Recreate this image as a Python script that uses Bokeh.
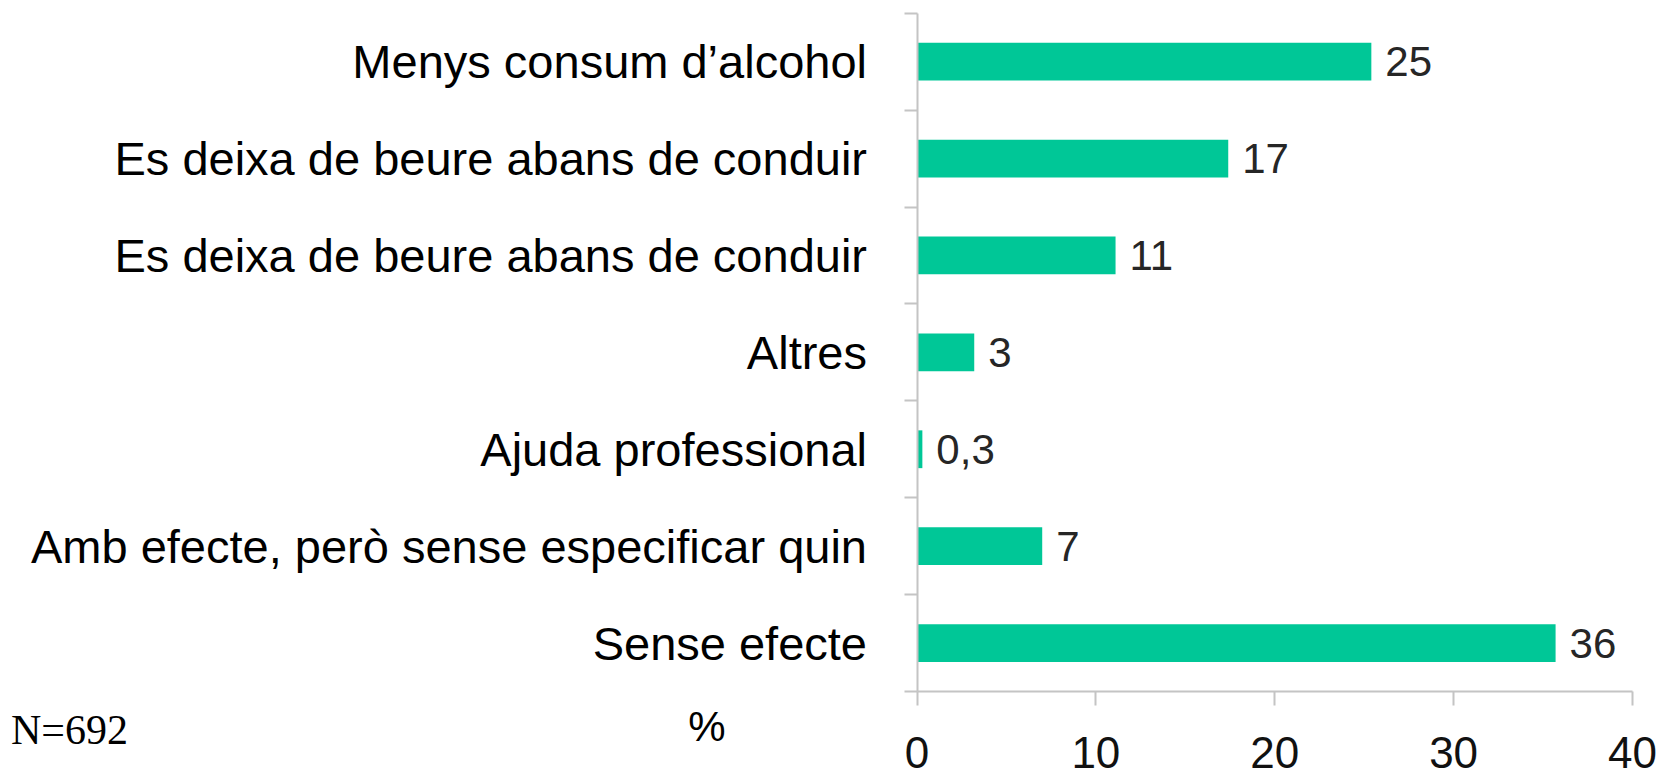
from bokeh.plotting import figure
from bokeh.models import ColumnDataSource, Range1d, FixedTicker, Label
from bokeh.embed import file_html
from bokeh.resources import INLINE
from bokeh.core.properties import value

categories = [
    "Menys consum d\u2019alcohol",
    "Es deixa de beure abans de conduir",
    "Es deixa de beure abans de conduir",
    "Altres",
    "Ajuda professional",
    "Amb efecte, però sense especificar quin",
    "Sense efecte",
]
values = [25.4, 17.4, 11.1, 3.2, 0.3, 7.0, 35.7]
value_labels = ["25", "17", "11", "3", "0,3", "7", "36"]
x_ticks = [0, 10, 20, 30, 40]
x_min, x_max = 0, 40

BAR = "#00C797"
AXIS = "#c4c4c4"

# layout (pixels): plotting area of the axes inside the canvas
W, H = 1664, 775
AX_LEFT, AX_RIGHT, AX_TOP, AX_BOTTOM = 916.5, 1632, 12.7, 691
n = len(categories)
px_per_x = (AX_RIGHT - AX_LEFT) / (x_max - x_min)
px_per_band = (AX_BOTTOM - AX_TOP) / n

x_range = Range1d(x_min - AX_LEFT / px_per_x, x_max + (W - AX_RIGHT) / px_per_x)
y_range = Range1d(n - 0.5 + (H - AX_BOTTOM) / px_per_band, -0.5 - AX_TOP / px_per_band)

pos = list(range(n))
src = ColumnDataSource(dict(y=pos, v=values, lab=value_labels))

p = figure(width=W, height=H, output_backend="svg", toolbar_location=None,
           x_range=x_range, y_range=y_range,
           min_border_left=0, min_border_right=0, min_border_top=0, min_border_bottom=0)
p.outline_line_color = None
p.grid.visible = False
p.background_fill_color = "white"
p.border_fill_color = "white"

p.hbar(y="y", right="v", left=0, height=0.39, source=src, fill_color=BAR, line_color=None)
p.text(x="v", y="y", text="lab", source=src, x_offset=14, text_baseline="middle",
       text_align="left", text_font=value("Liberation Sans"), text_font_size="42px",
       text_color="#262626")

# x axis, fixed at the bottom of the category bands
xa = p.xaxis[0]
xa.fixed_location = n - 0.5
xa.bounds = (x_min, x_max)
xa.ticker = FixedTicker(ticks=x_ticks)
xa.axis_line_color = AXIS
xa.axis_line_width = 2
xa.major_tick_line_color = AXIS
xa.major_tick_line_width = 2
xa.major_tick_out = 14
xa.major_tick_in = 0
xa.minor_tick_line_color = None
xa.major_label_text_font = "Liberation Sans"
xa.major_label_text_font_size = "44px"
xa.major_label_text_color = "#111111"
xa.major_label_standoff = 31

# y axis at x=0: labels at band centres, ticks at band boundaries
ya = p.yaxis[0]
ya.fixed_location = 0
ya.bounds = (-0.5, n - 0.5)
ya.ticker = FixedTicker(ticks=pos, minor_ticks=[i - 0.5 for i in range(n + 1)])
ya.major_label_overrides = {i: c for i, c in enumerate(categories)}
ya.axis_line_color = AXIS
ya.axis_line_width = 2
ya.major_tick_line_color = None
ya.major_tick_out = 0
ya.major_tick_in = 0
ya.minor_tick_line_color = AXIS
ya.minor_tick_line_width = 2
ya.minor_tick_out = 13
ya.minor_tick_in = 0
ya.major_label_text_font = "Liberation Sans"
ya.major_label_text_font_size = "47px"
ya.major_label_text_color = "#000000"
ya.major_label_standoff = 37

p.add_layout(Label(x=0, y=n - 0.5, x_offset=-210, y_offset=-35, text="%",
                   text_align="center", text_baseline="alphabetic",
                   text_font="Liberation Sans", text_font_size="42px", text_color="#000000"))
p.add_layout(Label(x=0, y=n - 0.5, x_offset=-906, y_offset=-38, text="N=692",
                   text_align="left", text_baseline="alphabetic",
                   text_font="Liberation Serif", text_font_size="42px", text_color="#000000"))

open("out.html", "w").write(file_html(p, INLINE))
